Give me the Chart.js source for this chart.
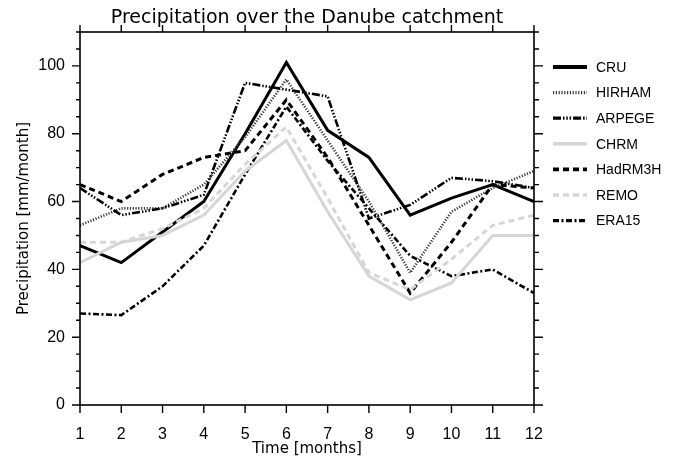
<!DOCTYPE html>
<html>
<head>
<meta charset="utf-8">
<script src="https://cdn.jsdelivr.net/npm/chart.js@4.4.1/dist/chart.umd.min.js"></script>
<style>
  html, body { margin: 0; padding: 0; background: #fff; }
  #c { display: block; }
</style>
</head>
<body>
<canvas id="c" width="675" height="466"></canvas>
<script>
// ---- data ----
const months  = [1, 2, 3, 4, 5, 6, 7, 8, 9, 10, 11, 12];
const cru     = [47, 42, 51, 60, 80, 101, 81, 73, 56, 61, 65, 60];
const hirham  = [53, 58, 58, 65, 79, 96, 78, 60, 39, 57, 64, 69];
const arpege  = [64, 56, 58, 62, 95, 93, 91, 55, 59, 67, 66, 64];
const chrm    = [42, 48, 50, 56, 69, 78, 57, 38, 31, 36, 50, 50];
const hadrm3h = [65, 60, 68, 73, 75, 90, 73, 53, 33, 48, 65, 64];
const remo    = [48, 48, 52, 58, 71, 82, 61, 39, 34, 43, 53, 56];
const era15   = [27, 26.5, 35, 47, 68, 88, 72, 58, 44, 38, 40, 33];
const seriesNames = ['CRU', 'HIRHAM', 'ARPEGE', 'CHRM', 'HadRM3H', 'REMO', 'ERA15'];
const yTickLabels = [0, 20, 40, 60, 80, 100];

const titleText = 'Precipitation over the Danube catchment';
const xTitle = 'Time [months]';
const yTitle = 'Precipitation [mm/month]';

const toPts = arr => months.map((m, i) => ({ x: m, y: arr[i] }));

const styles = [
  { color: '#000000', width: 3,   dash: [] },
  { color: '#3a3a3a', width: 2.6, dash: [1.2, 1.6] },
  { color: '#000000', width: 2.6, dash: [8, 2, 1.5, 1.8, 1.5, 1.8, 1.5, 2] },
  { color: '#d6d6d6', width: 3,   dash: [] },
  { color: '#000000', width: 3,   dash: [6, 4] },
  { color: '#d6d6d6', width: 3,   dash: [6, 4] },
  { color: '#000000', width: 2.6, dash: [6, 2.5, 2, 2.5] }
];
const allSeries = [cru, hirham, arpege, chrm, hadrm3h, remo, era15];

const datasets = allSeries.map((arr, i) => ({
  label: seriesNames[i],
  data: toPts(arr),
  borderColor: styles[i].color,
  borderWidth: styles[i].width,
  borderDash: styles[i].dash,
  borderCapStyle: 'butt',
  borderJoinStyle: 'miter',
  pointRadius: 0,
  fill: false,
  tension: 0
}));
// draw order: grey lines under black ones
const order = [3, 5, 6, 4, 2, 1, 0];
datasets.forEach((d, i) => { d.order = order.indexOf(i); });

const frameTicks = {
  id: 'frameTicks',
  afterDatasetsDraw(chart) {
    const ctx = chart.ctx;
    const xs = chart.scales.x, ys = chart.scales.y;
    const a = chart.chartArea;
    ctx.save();
    ctx.strokeStyle = '#000';
    ctx.lineWidth = 1.6;
    ctx.setLineDash([]);
    ctx.strokeRect(a.left, a.top, a.right - a.left, a.bottom - a.top);
    ctx.lineWidth = 1.4;
    ctx.beginPath();
    for (let v = 0; v <= 110; v += 5) {
      const py = ys.getPixelForValue(v);
      const major = v % 20 === 0;
      ctx.moveTo(a.left, py); ctx.lineTo(a.left - (major ? 8 : 4), py);
      ctx.moveTo(a.right, py); ctx.lineTo(a.right + (major ? 9 : 5), py);
    }
    for (const m of months) {
      const px = xs.getPixelForValue(m);
      ctx.moveTo(px, a.bottom); ctx.lineTo(px, a.bottom + 8);
      ctx.moveTo(px, a.top); ctx.lineTo(px, a.top - 7);
    }
    ctx.stroke();
    ctx.restore();
  }
};

const sideLegend = {
  id: 'sideLegend',
  afterDraw(chart) {
    const ctx = chart.ctx;
    ctx.save();
    chart.data.datasets.forEach((d, i) => {
      const y = 67 + i * 25.6;
      ctx.beginPath();
      ctx.strokeStyle = d.borderColor;
      ctx.lineWidth = i === 0 ? 4 : d.borderWidth + 0.6;
      ctx.setLineDash(d.borderDash);
      ctx.lineCap = 'butt';
      ctx.moveTo(553, y); ctx.lineTo(587, y);
      ctx.stroke();
      ctx.setLineDash([]);
      ctx.fillStyle = '#000';
      ctx.font = '14px "Liberation Sans", Arial, sans-serif';
      ctx.textBaseline = 'middle';
      ctx.textAlign = 'left';
      ctx.fillText(d.label, 596, y + 1);
    });
    ctx.restore();
  }
};

new Chart(document.getElementById('c'), {
  type: 'line',
  data: { datasets },
  options: {
    responsive: false,
    animation: false,
    layout: { padding: { left: 0, right: 141, top: 0, bottom: 0 } },
    plugins: {
      legend: { display: false },
      tooltip: { enabled: false },
      title: {
        display: true,
        text: titleText,
        fullSize: false,
        color: '#000',
        font: { family: '"DejaVu Sans", sans-serif', size: 19, weight: 'normal', lineHeight: 1.2 },
        padding: { top: 7, bottom: 2.2 }
      }
    },
    scales: {
      x: {
        type: 'linear',
        min: 1, max: 12,
        afterFit: s => { s.height = 61; },
        grid: { display: false, drawTicks: false },
        border: { display: false },
        ticks: {
          stepSize: 1, color: '#000', padding: 20, maxRotation: 0,
          font: { family: '"Liberation Sans", Arial, sans-serif', size: 16 }
        },
        title: {
          display: true, text: xTitle, color: '#000',
          font: { family: '"DejaVu Sans", sans-serif', size: 15 },
          padding: { top: 0, bottom: 8 }
        }
      },
      y: {
        min: 0, max: 110,
        afterFit: s => { s.width = 80; },
        grid: { display: false, drawTicks: false },
        border: { display: false },
        ticks: {
          stepSize: 20, color: '#000', padding: 15,
          font: { family: '"Liberation Sans", Arial, sans-serif', size: 16 },
          callback: v => (yTickLabels.includes(v) ? String(v) : '')
        },
        title: {
          display: true, text: yTitle, color: '#000',
          font: { family: '"DejaVu Sans", sans-serif', size: 15 },
          padding: { top: 15, bottom: 0 }
        }
      }
    }
  },
  plugins: [frameTicks, sideLegend]
});
</script>
</body>
</html>
